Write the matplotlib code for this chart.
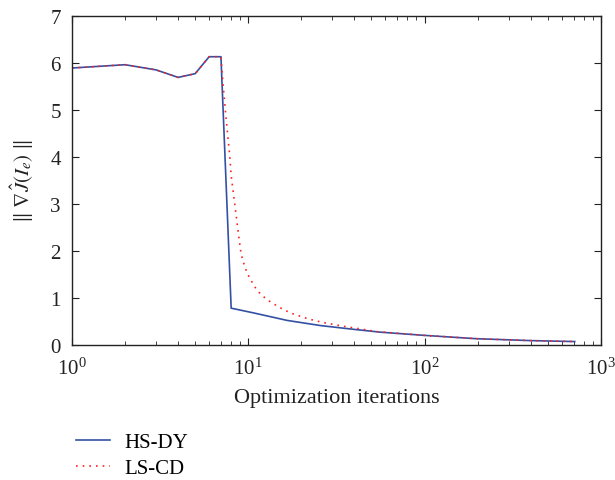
import numpy as np
import matplotlib
matplotlib.use('Agg')
import matplotlib.pyplot as plt
from matplotlib.ticker import LogLocator, FixedLocator, NullFormatter

# HS-DY gradient norm per iteration
hs_x = [1, 2, 3, 4, 5, 6, 7, 8, 10.7, 16.6, 25.7, 39.6, 56, 101, 198, 400, 711]
hs_y = [5.89, 5.96, 5.85, 5.69, 5.77, 6.13, 6.13, 0.78, 0.68, 0.52, 0.41,
        0.33, 0.27, 0.20, 0.13, 0.09, 0.07]

# LS-CD gradient norm
ls_x = [1, 2, 3, 4, 5, 6, 7, 7.18, 7.4, 7.65, 7.85, 8.0, 8.25, 8.62, 8.9,
        9.1, 9.33, 9.84, 10.3, 11.2, 12, 12.8, 14.8, 17.3, 22, 26.2, 34, 43,
        54, 101, 198, 400, 711]
ls_y = [5.89, 5.96, 5.85, 5.69, 5.77, 6.13, 6.13, 5.59, 5.02, 4.45, 4.03,
        3.60, 3.20, 2.63, 2.21, 1.94, 1.79, 1.53, 1.39, 1.16, 1.05, 0.96,
        0.81, 0.68, 0.55, 0.48, 0.40, 0.34, 0.28, 0.20, 0.13, 0.09, 0.07]

y_ticks = [0, 1, 2, 3, 4, 5, 6, 7]

plt.rcParams['font.family'] = 'serif'
plt.rcParams['font.serif'] = ['Liberation Serif', 'DejaVu Serif']
plt.rcParams['mathtext.fontset'] = 'stix'


def main():
    fig = plt.figure(figsize=(6.15, 4.81), dpi=100)
    ax = fig.add_axes([0.117, 0.281, 0.86, 0.684])

    l1, = ax.plot(hs_x, hs_y, '-', color='#3450a2', lw=1.2, label='HS-DY')
    l2, = ax.plot(ls_x, ls_y, linestyle=(0, (1, 3)), color='#ff2020', lw=1.2,
                  label='LS-CD')

    ax.set_xscale('log')
    ax.set_xlim(1, 1000)
    ax.set_ylim(0, 7)
    ax.yaxis.set_major_locator(FixedLocator(y_ticks))
    ax.xaxis.set_major_locator(LogLocator(base=10, numticks=10))
    ax.xaxis.set_minor_locator(LogLocator(base=10, subs=np.arange(2, 10), numticks=20))
    ax.xaxis.set_minor_formatter(NullFormatter())

    ax.tick_params(which='both', direction='in', top=True, right=True,
                   labelsize=15, color='#222222')
    ax.tick_params(which='major', length=5)
    ax.tick_params(axis='x', which='major', pad=9)
    ax.tick_params(axis='y', which='major', pad=8)
    ax.tick_params(which='minor', length=3)
    for s in ax.spines.values():
        s.set_linewidth(1.0)
        s.set_color('#222222')

    ax.set_xlabel('Optimization iterations', fontsize=16, labelpad=7, color='#222222')
    ax.set_ylabel(r'$\|\ \nabla\hat{J}(I_e)\ \|$', fontsize=15, labelpad=10, color='#222222')

    # legend sits under the axes, no frame
    fig.legend(handles=[l1, l2], loc='upper left', bbox_to_anchor=(0.11, 0.116),
               frameon=False, fontsize=15, handlelength=1.63, handletextpad=0.67,
               labelspacing=0.3, borderaxespad=0)
    for t in ax.get_xticklabels() + ax.get_yticklabels():
        t.set_color('#222222')

    fig.savefig('out.png', dpi=100)


if __name__ == '__main__':
    main()
